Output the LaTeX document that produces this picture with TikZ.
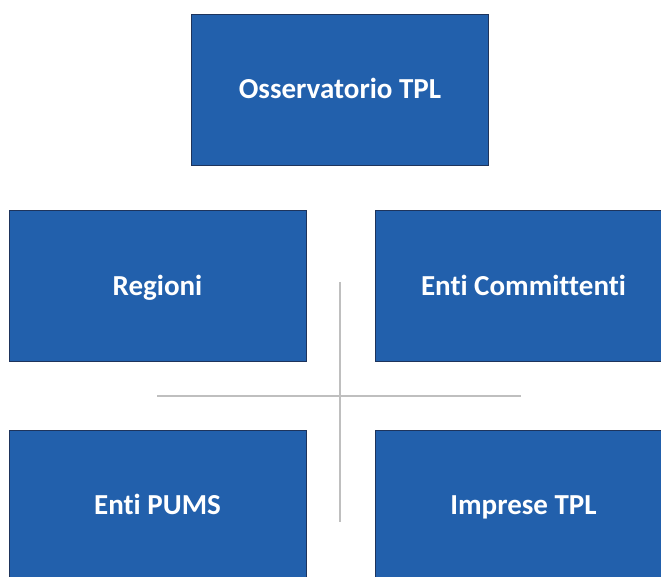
\documentclass[tikz,border=0pt]{standalone}
\usepackage{fontspec}
\setmainfont{Carlito}[Ligatures=NoCommon]
\usepackage{xcolor}
\usetikzlibrary{positioning}
\definecolor{boxblue}{RGB}{34,96,172}
\definecolor{boxedge}{RGB}{30,52,92}
\definecolor{crossgray}{RGB}{191,191,191}

\begin{document}
\begin{tikzpicture}[
    x=1pt, y=-1pt,
    font=\bfseries\fontsize{29}{34}\selectfont,
    orgbox/.style={rectangle, draw=boxedge, line width=0.8pt, fill=boxblue, text=white, minimum width=297pt, minimum height=151pt, inner sep=0pt, text height=24pt, text depth=5.4pt},
    crossline/.style={draw=crossgray, line width=2pt}
]
\useasboundingbox (0,0) rectangle (661,577);
\clip (0,0) rectangle (661,577);

\node[orgbox] (Osservatorio) at (340,89.5) {Osservatorio TPL};
\node[orgbox] (Regioni) at (157.5,285.8) {Regioni};
\node[orgbox] (Committenti) at (523.5,285.8) {Enti Committenti};
\node[orgbox] (Pums) at (157.5,505.5) {Enti PUMS};
\node[orgbox] (Imprese) at (523.5,505.5) {Imprese TPL};

\coordinate (CrossTop) at (340,282);
\coordinate (CrossBottom) at (340,522);
\coordinate (CrossLeft) at (157,396);
\coordinate (CrossRight) at (521,396);
\draw[crossline] (CrossTop) -- (CrossBottom);
\draw[crossline] (CrossLeft) -- (CrossRight);
\end{tikzpicture}
\end{document}
